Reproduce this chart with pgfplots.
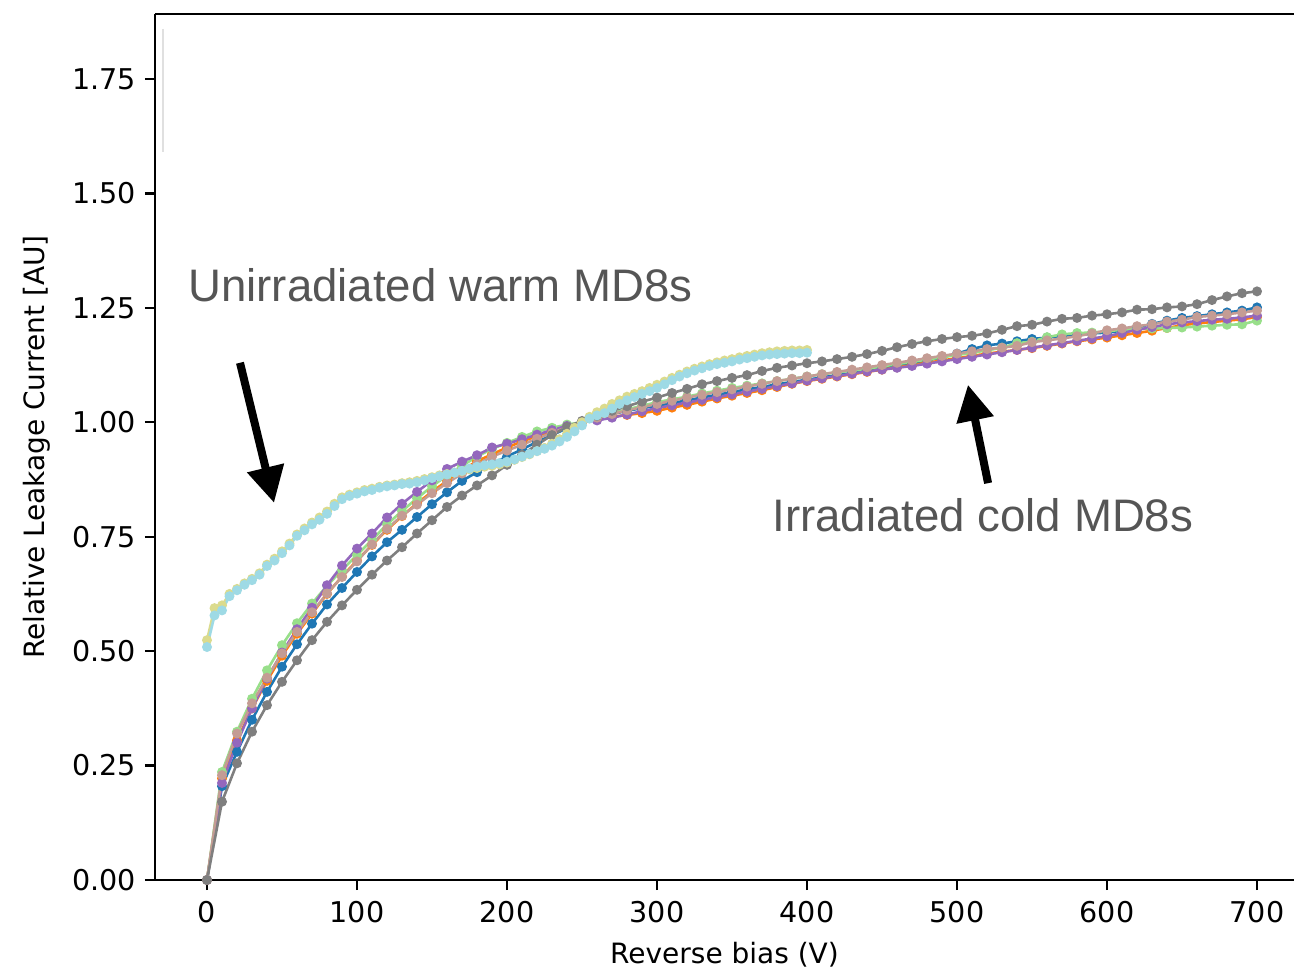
\documentclass[border=0pt]{standalone}
\usepackage{pgfplots}
\pgfplotsset{compat=1.18}
\usepackage{fontspec}
\setmainfont{DejaVu Sans}
\newfontfamily\annfont{Liberation Sans}
\usetikzlibrary{arrows.meta}
\definecolor{cblue}{HTML}{1F77B4}
\definecolor{corange}{HTML}{FF7F0E}
\definecolor{cgreen}{HTML}{98DF8A}
\definecolor{cpurple}{HTML}{9467BD}
\definecolor{cbrown}{HTML}{C49C94}
\definecolor{cgray}{HTML}{7F7F7F}
\definecolor{colive}{HTML}{DBDB8D}
\definecolor{ccyan}{HTML}{9EDAE5}
\definecolor{anngray}{HTML}{555555}
\begin{document}
\begin{tikzpicture}
\path[use as bounding box] (-77.5pt,-44pt) rectangle (569.5pt,440pt);
\begin{axis}[
  at={(0,0)}, anchor=south west,
  scale only axis, width=569.5pt, height=433pt,
  xmin=-34.67, xmax=724.67, ymin=0, ymax=1.892,
  axis x line*=box, axis y line*=left,
  xtick={0,100,...,700}, ytick={0,0.25,0.5,0.75,1,1.25,1.5,1.75},
  xtick pos=bottom, ytick pos=left,
  tick align=outside, major tick length=5pt,
  tick style={black, line width=1.1pt},
  axis line style={black, line width=1.1pt},
  /pgf/number format/assume math mode=true,
  tick label style={font=\fontsize{14.3}{16}\selectfont},
  xticklabel style={yshift=-2pt},
  yticklabel style={xshift=-1pt, /pgf/number format/.cd, fixed, fixed zerofill, precision=2},
  label style={font=\fontsize{14}{16}\selectfont},
  xlabel={Reverse bias (V)}, ylabel={Relative Leakage Current [AU]},
  xlabel style={yshift=-3pt},
  ylabel style={yshift=4pt},
  every axis plot/.append style={line width=1.3pt, mark=*, mark size=1.8pt},
]
% blue
\addplot[cblue] coordinates {(0,0) (10,0.205) (20,0.280) (30,0.350) (40,0.411) (50,0.466) (60,0.515) (70,0.560) (80,0.602) (90,0.638) (100,0.673) (110,0.707) (120,0.738) (130,0.765) (140,0.793) (150,0.821) (160,0.847) (170,0.872) (180,0.891) (190,0.909) (200,0.925) (210,0.941) (220,0.957) (230,0.972) (240,0.987) (250,1.000) (260,1.011) (270,1.018) (280,1.025) (290,1.031) (300,1.036) (310,1.042) (320,1.048) (330,1.054) (340,1.060) (350,1.066) (360,1.072) (370,1.077) (380,1.083) (390,1.088) (400,1.093) (410,1.098) (420,1.103) (430,1.108) (440,1.113) (450,1.118) (460,1.122) (470,1.128) (480,1.135) (490,1.142) (500,1.150) (510,1.160) (520,1.168) (530,1.172) (540,1.177) (550,1.182) (560,1.185) (570,1.189) (580,1.192) (590,1.194) (600,1.196) (610,1.200) (620,1.207) (630,1.215) (640,1.222) (650,1.228) (660,1.232) (670,1.236) (680,1.240) (690,1.244) (700,1.251)};
% orange
\addplot[corange] coordinates {(0,0) (10,0.222) (20,0.305) (30,0.375) (40,0.435) (50,0.490) (60,0.538) (70,0.582) (80,0.625) (90,0.663) (100,0.698) (110,0.732) (120,0.765) (130,0.795) (140,0.823) (150,0.848) (160,0.872) (170,0.895) (180,0.915) (190,0.930) (200,0.945) (210,0.958) (220,0.970) (230,0.981) (240,0.991) (250,1.000) (260,1.006) (270,1.012) (280,1.016) (290,1.020) (300,1.025) (310,1.032) (320,1.038) (330,1.045) (340,1.052) (350,1.058) (360,1.064) (370,1.070) (380,1.077) (390,1.084) (400,1.090) (410,1.095) (420,1.100) (430,1.105) (440,1.110) (450,1.115) (460,1.120) (470,1.125) (480,1.130) (490,1.135) (500,1.140) (510,1.145) (520,1.150) (530,1.154) (540,1.158) (550,1.162) (560,1.167) (570,1.172) (580,1.177) (590,1.181) (600,1.185) (610,1.190) (620,1.195) (630,1.200) (640,1.206) (650,1.212) (660,1.216) (670,1.219) (680,1.222) (690,1.225) (700,1.230)};
% green
\addplot[cgreen] coordinates {(0,0) (10,0.236) (20,0.324) (30,0.396) (40,0.458) (50,0.513) (60,0.561) (70,0.604) (80,0.643) (90,0.677) (100,0.710) (110,0.743) (120,0.777) (130,0.806) (140,0.834) (150,0.860) (160,0.884) (170,0.905) (180,0.925) (190,0.942) (200,0.955) (210,0.968) (220,0.980) (230,0.988) (240,0.995) (250,1.000) (260,1.010) (270,1.020) (280,1.028) (290,1.036) (300,1.044) (310,1.050) (320,1.056) (330,1.063) (340,1.069) (350,1.075) (360,1.080) (370,1.085) (380,1.090) (390,1.095) (400,1.100) (410,1.105) (420,1.109) (430,1.113) (440,1.117) (450,1.122) (460,1.127) (470,1.132) (480,1.137) (490,1.142) (500,1.147) (510,1.152) (520,1.157) (530,1.163) (540,1.173) (550,1.176) (560,1.186) (570,1.192) (580,1.195) (590,1.196) (600,1.199) (610,1.202) (620,1.204) (630,1.205) (640,1.206) (650,1.207) (660,1.209) (670,1.211) (680,1.213) (690,1.214) (700,1.222)};
% purple
\addplot[cpurple] coordinates {(0,0) (10,0.212) (20,0.300) (30,0.375) (40,0.440) (50,0.497) (60,0.548) (70,0.595) (80,0.644) (90,0.687) (100,0.724) (110,0.757) (120,0.792) (130,0.822) (140,0.848) (150,0.873) (160,0.898) (170,0.914) (180,0.928) (190,0.945) (200,0.953) (210,0.963) (220,0.973) (230,0.983) (240,0.992) (250,1.000) (260,1.004) (270,1.010) (280,1.017) (290,1.024) (300,1.031) (310,1.037) (320,1.043) (330,1.049) (340,1.055) (350,1.061) (360,1.067) (370,1.073) (380,1.079) (390,1.085) (400,1.091) (410,1.096) (420,1.101) (430,1.106) (440,1.111) (450,1.115) (460,1.119) (470,1.123) (480,1.128) (490,1.133) (500,1.138) (510,1.143) (520,1.148) (530,1.153) (540,1.158) (550,1.163) (560,1.168) (570,1.173) (580,1.178) (590,1.183) (600,1.188) (610,1.195) (620,1.202) (630,1.208) (640,1.214) (650,1.218) (660,1.221) (670,1.224) (680,1.226) (690,1.229) (700,1.233)};
% brown
\addplot[cbrown] coordinates {(0,0) (10,0.229) (20,0.320) (30,0.386) (40,0.442) (50,0.495) (60,0.542) (70,0.585) (80,0.626) (90,0.662) (100,0.696) (110,0.733) (120,0.767) (130,0.796) (140,0.820) (150,0.845) (160,0.867) (170,0.888) (180,0.908) (190,0.925) (200,0.938) (210,0.951) (220,0.964) (230,0.977) (240,0.989) (250,1.000) (260,1.010) (270,1.018) (280,1.026) (290,1.033) (300,1.040) (310,1.047) (320,1.054) (330,1.060) (340,1.066) (350,1.072) (360,1.078) (370,1.084) (380,1.090) (390,1.095) (400,1.100) (410,1.105) (420,1.110) (430,1.115) (440,1.120) (450,1.125) (460,1.130) (470,1.135) (480,1.140) (490,1.145) (500,1.150) (510,1.155) (520,1.160) (530,1.163) (540,1.167) (550,1.175) (560,1.179) (570,1.183) (580,1.188) (590,1.194) (600,1.201) (610,1.205) (620,1.210) (630,1.214) (640,1.220) (650,1.224) (660,1.230) (670,1.233) (680,1.236) (690,1.240) (700,1.244)};
% gray
\addplot[cgray] coordinates {(0,0) (10,0.171) (20,0.255) (30,0.324) (40,0.382) (50,0.433) (60,0.480) (70,0.524) (80,0.564) (90,0.600) (100,0.634) (110,0.667) (120,0.698) (130,0.727) (140,0.757) (150,0.786) (160,0.815) (170,0.840) (180,0.862) (190,0.884) (200,0.907) (210,0.929) (220,0.951) (230,0.972) (240,0.990) (250,1.003) (260,1.014) (270,1.025) (280,1.035) (290,1.045) (300,1.054) (310,1.064) (320,1.073) (330,1.083) (340,1.090) (350,1.097) (360,1.103) (370,1.112) (380,1.119) (390,1.124) (400,1.129) (410,1.133) (420,1.138) (430,1.143) (440,1.149) (450,1.156) (460,1.164) (470,1.171) (480,1.177) (490,1.182) (500,1.186) (510,1.189) (520,1.194) (530,1.202) (540,1.210) (550,1.213) (560,1.220) (570,1.226) (580,1.228) (590,1.233) (600,1.236) (610,1.240) (620,1.246) (630,1.247) (640,1.251) (650,1.253) (660,1.258) (670,1.267) (680,1.275) (690,1.282) (700,1.286)};
% olive (unirradiated)
\addplot[colive] coordinates {(0,0.524) (5,0.594) (10,0.600) (15,0.625) (20,0.636) (25,0.648) (30,0.658) (35,0.670) (40,0.689) (45,0.702) (50,0.718) (55,0.735) (60,0.755) (65,0.768) (70,0.781) (75,0.792) (80,0.805) (85,0.822) (90,0.836) (95,0.842) (100,0.847) (105,0.852) (110,0.855) (115,0.859) (120,0.862) (125,0.864) (130,0.867) (135,0.869) (140,0.872) (145,0.876) (150,0.880) (155,0.884) (160,0.887) (165,0.890) (170,0.893) (175,0.897) (180,0.900) (185,0.903) (190,0.905) (195,0.908) (200,0.912) (205,0.918) (210,0.924) (215,0.930) (220,0.937) (225,0.944) (230,0.953) (235,0.963) (240,0.975) (245,0.988) (250,1.000) (255,1.012) (260,1.022) (265,1.030) (270,1.040) (275,1.048) (280,1.056) (285,1.062) (290,1.068) (295,1.075) (300,1.082) (305,1.089) (310,1.097) (315,1.104) (320,1.111) (325,1.117) (330,1.122) (335,1.127) (340,1.131) (345,1.135) (350,1.138) (355,1.142) (360,1.145) (365,1.148) (370,1.151) (375,1.153) (380,1.155) (385,1.156) (390,1.157) (395,1.157) (400,1.158)};
% cyan (unirradiated)
\addplot[ccyan] coordinates {(0,0.509) (5,0.578) (10,0.589) (15,0.620) (20,0.633) (25,0.645) (30,0.655) (35,0.667) (40,0.686) (45,0.698) (50,0.714) (55,0.731) (60,0.752) (65,0.764) (70,0.777) (75,0.787) (80,0.800) (85,0.817) (90,0.832) (95,0.839) (100,0.844) (105,0.849) (110,0.852) (115,0.857) (120,0.860) (125,0.862) (130,0.865) (135,0.866) (140,0.869) (145,0.873) (150,0.878) (155,0.882) (160,0.886) (165,0.890) (170,0.894) (175,0.899) (180,0.903) (185,0.906) (190,0.908) (195,0.911) (200,0.914) (205,0.919) (210,0.925) (215,0.931) (220,0.937) (225,0.942) (230,0.949) (235,0.958) (240,0.968) (245,0.980) (250,0.993) (255,1.008) (260,1.015) (265,1.020) (270,1.030) (275,1.040) (280,1.048) (285,1.055) (290,1.062) (295,1.068) (300,1.075) (305,1.083) (310,1.092) (315,1.100) (320,1.107) (325,1.113) (330,1.118) (335,1.123) (340,1.127) (345,1.130) (350,1.133) (355,1.137) (360,1.140) (365,1.143) (370,1.146) (375,1.148) (380,1.149) (385,1.150) (390,1.151) (395,1.151) (400,1.152)};
% annotations
\node[anchor=west, inner sep=0pt, text=anngray, font=\annfont\fontsize{22.8}{26}\selectfont] at (axis cs:-12.7,1.300) {Unirradiated warm MD8s};
\node[anchor=west, inner sep=0pt, text=anngray, font=\annfont\fontsize{22.8}{26}\selectfont] at (axis cs:376.7,0.796) {Irradiated cold MD8s};
\draw[black, line width=4pt, -{Triangle[width=18pt,length=18pt]}] (axis cs:22,1.13) -- (axis cs:44.7,0.824);
\draw[black, line width=4pt, -{Triangle[width=18pt,length=18pt]}] (axis cs:520.7,0.867) -- (axis cs:507.3,1.082);
\draw[black!12, line width=0.6pt] (axis cs:-29.3,1.86) -- (axis cs:-29.3,1.59);
\end{axis}
\end{tikzpicture}
\end{document}
